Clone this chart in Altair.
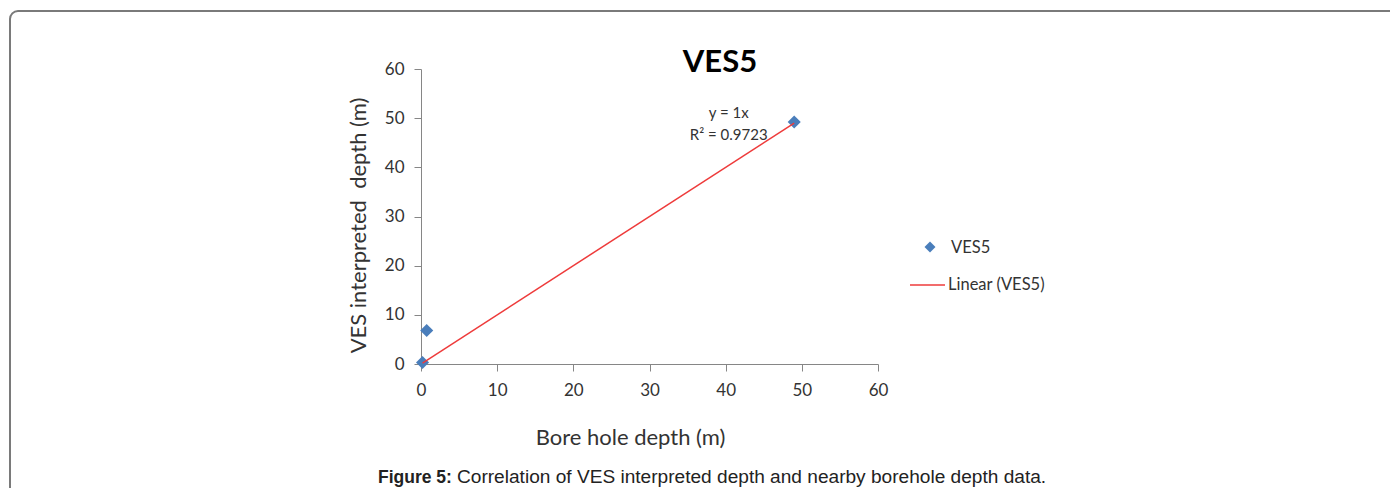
import altair as alt
import pandas as pd

# ---- data ----
bore_depth = [0.2, 0.75, 49.0]          # Bore hole depth (m)
ves_depth = [0.3, 6.8, 49.2]            # VES interpreted depth (m)
series_name = "VES5"
trend_label = "Linear (VES5)"
trend_slope = 1.0                       # y = 1x
equation_lines = ["y = 1x", "R² = 0.9723"]
equation_x = [40.4, 40.4]
equation_y = [51.0, 46.5]
x_ticks = [0, 10, 20, 30, 40, 50, 60]
y_ticks = [0, 10, 20, 30, 40, 50, 60]
chart_title = "VES5"
x_title = "Bore hole depth (m)"
y_title = "VES interpreted\u00a0 depth (m)"
caption_bold = "Figure 5:"
caption_text = "Correlation of VES interpreted depth and nearby borehole depth data."

pts = pd.DataFrame({"x": bore_depth, "y": ves_depth})
tx = [min(bore_depth), max(bore_depth)]
trend = pd.DataFrame({"x": tx, "y": [trend_slope * v for v in tx]})
eq = pd.DataFrame({"x": equation_x, "y": equation_y, "t": equation_lines})

W, H = 457, 295
FONT = "Lato"
TXT = "#333333"
CAPFONT = "Liberation Sans"
xs = alt.Scale(domain=[0, 60], nice=False)
ys = alt.Scale(domain=[0, 60], nice=False)

points = alt.Chart(pts).mark_point(
    shape="diamond", filled=True, size=170, color="#4a7ebb", opacity=1
).encode(
    x=alt.X("x:Q", scale=xs, axis=alt.Axis(
        values=x_ticks, title=x_title, labelPadding=11, labelFlush=False,
        titleX=209, titleY=73, titleBaseline="middle", titleAnchor="middle", titleAlign="center")),
    y=alt.Y("y:Q", scale=ys, axis=alt.Axis(
        values=y_ticks, title=y_title, labelPadding=10, labelFlush=False,
        titleX=-63, titleY=156, titleBaseline="middle", titleAngle=-90, titleAlign="center")),
)

line = alt.Chart(trend).mark_line(color="#ee3b3b", strokeWidth=1.5).encode(
    x=alt.X("x:Q", scale=xs), y=alt.Y("y:Q", scale=ys)
)

eq_text = alt.Chart(eq).mark_text(font=FONT, fontSize=15, color=TXT, align="center", baseline="middle").encode(
    x=alt.X("x:Q", scale=xs), y=alt.Y("y:Q", scale=ys), text="t:N"
)

one = pd.DataFrame({"a": [0]})

title = alt.Chart(pd.DataFrame({"t": [chart_title]})).mark_text(
    font=FONT, fontSize=31, fontWeight="bold", color="#000000", align="center", baseline="alphabetic"
).encode(x=alt.value(299), y=alt.value(3), text="t:N")

# legend
leg_sym = alt.Chart(one).mark_point(shape="diamond", filled=True, size=120, color="#4a7ebb", opacity=1).encode(
    x=alt.value(509), y=alt.value(178))
leg_t1 = alt.Chart(pd.DataFrame({"t": [series_name]})).mark_text(
    font=FONT, fontSize=16.5, color=TXT, align="left", baseline="middle").encode(
    x=alt.value(530), y=alt.value(179), text="t:N")
leg_line = alt.Chart(one).mark_rule(color="#ee3b3b", strokeWidth=1.5).encode(
    x=alt.value(489), x2=alt.value(524), y=alt.value(216))
leg_t2 = alt.Chart(pd.DataFrame({"t": [trend_label]})).mark_text(
    font=FONT, fontSize=16.5, color=TXT, align="left", baseline="middle").encode(
    x=alt.value(527), y=alt.value(216), text="t:N")

# caption
cap1 = alt.Chart(pd.DataFrame({"t": [caption_bold]})).mark_text(
    font=CAPFONT, fontSize=17.5, fontWeight="bold", color="#222222", align="left", baseline="alphabetic").encode(
    x=alt.value(-43), y=alt.value(414), text="t:N")
cap2 = alt.Chart(pd.DataFrame({"t": [caption_text]})).mark_text(
    font=CAPFONT, fontSize=19.1, color="#222222", align="left", baseline="alphabetic").encode(
    x=alt.value(36), y=alt.value(414), text="t:N")

# page frame
frame = alt.Chart(one).mark_rect(
    fillOpacity=0, stroke="#7a7a7a", strokeWidth=2, cornerRadius=8
).encode(x=alt.value(-411), x2=alt.value(1000), y=alt.value(-58), y2=alt.value(450))

chart = alt.layer(
    frame, points, line, eq_text, title, leg_sym, leg_t1, leg_line, leg_t2, cap1, cap2
).properties(
    width=W, height=H,
    autosize=alt.AutoSizeParams(type="none"),
    padding={"left": 413, "top": 61, "right": 512, "bottom": 124},
).configure_view(stroke=None).configure_axis(
    grid=False, domainColor="#868686", tickColor="#868686", tickSize=7,
    labelFont=FONT, labelFontSize=17, labelColor=TXT,
    titleFont=FONT, titleFontSize=22, titleFontWeight="normal", titleColor=TXT,
)

chart.save("out.html", embed_options={"renderer": "svg", "actions": False})
